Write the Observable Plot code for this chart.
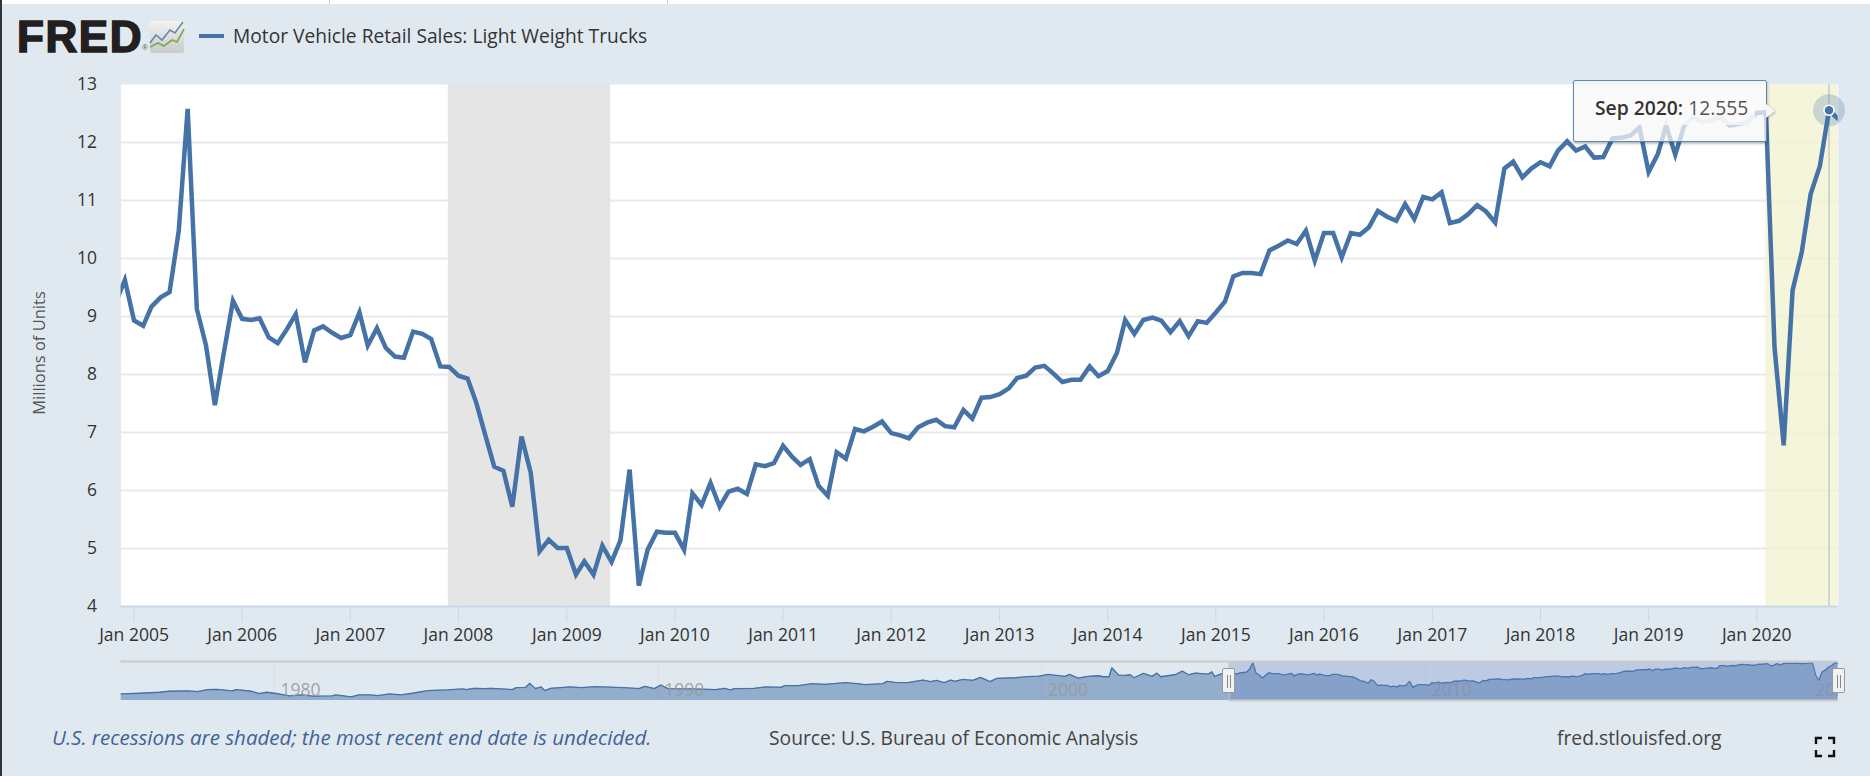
<!DOCTYPE html>
<html>
<head>
<meta charset="utf-8">
<script src="https://cdn.jsdelivr.net/npm/d3@7"></script>
<script src="https://cdn.jsdelivr.net/npm/@observablehq/plot@0.6"></script>
<style>
html,body{margin:0;padding:0;background:#e1e9f0;width:1870px;height:776px;overflow:hidden;font-family:"Open Sans",sans-serif}
.abs{position:absolute;white-space:nowrap}
svg{overflow:visible}
</style>
</head>
<body>
<div id="root"></div>
<script>
const seriesTitle = "Motor Vehicle Retail Sales: Light Weight Trucks";
const yLabel = "Millions of Units";
const noteText = "U.S. recessions are shaded; the most recent end date is undecided.";
const sourceText = "Source: U.S. Bureau of Economic Analysis";
const siteText = "fred.stlouisfed.org";
const tooltipDate = "Sep 2020:";
const tooltipValue = "12.555";

// monthly values, Nov 2004 → Oct 2020
const firstMonth = [2004, 10];
const values = [
  9.25, 9.63,
  8.93,8.84,9.17,9.33,9.42,10.48,12.58,9.13,8.50,7.47,8.40,9.27,
  8.96,8.94,8.97,8.64,8.54,8.78,9.04,8.21,8.76,8.83,8.72,8.63,
  8.68,9.07,8.50,8.80,8.46,8.31,8.29,8.74,8.70,8.61,8.14,8.13,
  7.98,7.93,7.52,6.95,6.41,6.34,5.72,6.93,6.31,4.95,5.15,5.01,
  5.01,4.55,4.78,4.55,5.05,4.77,5.14,6.36,4.36,4.98,5.29,5.27,
  5.27,4.98,5.95,5.75,6.13,5.72,5.98,6.03,5.94,6.45,6.42,6.47,
  6.77,6.58,6.44,6.54,6.08,5.91,6.66,6.55,7.06,7.02,7.10,7.19,
  6.99,6.95,6.90,7.09,7.17,7.22,7.11,7.09,7.39,7.24,7.60,7.61,
  7.66,7.76,7.94,7.98,8.12,8.15,8.02,7.87,7.91,7.91,8.14,7.97,
  8.06,8.37,8.94,8.70,8.94,8.98,8.93,8.73,8.92,8.66,8.92,8.89,
  9.07,9.26,9.69,9.75,9.75,9.73,10.14,10.22,10.31,10.25,10.48,9.96,
  10.44,10.44,10.02,10.44,10.41,10.54,10.82,10.72,10.65,10.94,10.68,11.06,
  11.02,11.14,10.61,10.65,10.76,10.92,10.81,10.62,11.55,11.67,11.40,11.55,
  11.66,11.59,11.86,12.02,11.86,11.93,11.74,11.75,12.07,12.08,12.12,12.26,
  11.49,11.80,12.29,11.79,12.29,12.44,12.35,12.38,12.44,12.29,12.32,12.35,
  12.51,12.52,8.47,6.78,9.45,10.11,11.11,11.59,12.555,12.41
];

// navigator: earlier history, read from the overview strip
const navYears = [
  1976,1976.5,1977,1977.25,1977.75,1978,1978.25,1978.5,1978.9,1979,1979.4,1979.6,1979.8,
  1980,1980.4,1980.7,1981,1981.5,1981.6,1982,1982.2,1982.5,1982.7,1983,1983.3,1983.6,
  1984,1984.5,1984.9,1985,1985.2,1985.5,1985.65,1986.2,1986.3,1986.55,1986.65,1986.8,1986.95,1987.05,1987.2,
  1987.7,1988,1988.35,1989.1,1989.5,1989.65,1989.9,1990.07,1990.25,1990.9,1991.5,1991.74,1991.87,1992,
  1992.5,1992.78,1993.2,1993.3,1993.65,1994,1994.35,1994.87,1995.2,1995.4,1995.86,1995.97,1996.16,1996.5,
  1996.9,1997.1,1997.25,1997.45,1997.63,1997.72,1997.95,1998.2,1998.4,1998.65,1998.82,1999.3,1999.73,1999.9,
  2000.16,2000.6,2000.72,2000.94,2001.2,2001.47,2001.6,2001.75,2001.82,2002,2002.17,2002.3,2002.4,2002.65,2002.87,
  2003,2003.1,2003.47,2003.66,2003.82,2004,2004.34,2004.43,2004.5,2004.73
];
const navValues = [
  2.2,2.42,2.75,3.08,3.19,2.97,3.63,3.74,3.19,3.63,3.08,2.31,2.75,
  2.42,1.54,1.87,1.43,1.54,1.87,1.21,1.87,1.87,1.65,2.2,1.87,2.42,
  3.3,3.52,3.85,3.63,4.07,3.96,4.07,3.63,4.29,4.4,5.72,3.96,4.51,3.3,4.07,
  4.51,4.29,4.62,4.29,3.96,4.73,3.96,5.17,3.96,3.85,3.63,4.07,3.52,3.96,
  4.07,4.51,4.4,4.95,4.95,5.61,5.39,5.94,5.6,5.28,5.61,6.38,6.05,5.94,
  6.82,6.27,6.71,5.94,6.82,6.38,7.04,6.71,7.7,6.27,7.37,7.59,8.03,8.03,
  8.69,8.03,8.69,7.48,8.03,8.25,7.92,7.92,10.9,8.47,8.36,8.58,7.59,9.02,8.03,
  9.13,7.92,8.58,9.79,8.58,9.13,8.8,9.57,8.03,9.13
];

const yTicks = [4,5,6,7,8,9,10,11,12,13];
const gridTicks = [5,6,7,8,9,10,11,12];
const xTickYears = d3.range(2005, 2021);
const navTickYears = [1980,1990,2000,2010,2020];

const recessions = [
  {start:new Date(Date.UTC(2007,10,28)), end:new Date(Date.UTC(2009,4,29)), fill:"#e5e5e5", op:1},
];
const covid = [{start:new Date(Date.UTC(2020,1,1)), end:new Date(Date.UTC(2020,9,2)), fill:"#f2f2d2", op:0.8}];

const rows = values.map((v,i)=>({date:new Date(Date.UTC(firstMonth[0], firstMonth[1]+i, 1)), value:v}));
const mainStart = new Date(Date.UTC(2004,10,18));
const mainEnd = new Date(Date.UTC(2020,9,2));
const current = rows.filter(d=>d.date.getUTCFullYear()===2020 && d.date.getUTCMonth()===8);
const blue = "#4572a7";

const root = document.getElementById("root");
function place(el, left, top){ const d=document.createElement("div"); d.className="abs"; d.style.left=left+"px"; d.style.top=top+"px"; d.appendChild(el); root.appendChild(d); return d;}
function html(s, css){ const d=document.createElement("div"); d.className="abs"; d.style.cssText+=css; d.innerHTML=s; root.appendChild(d); return d;}

// page chrome
html("", "left:0;top:0;width:1870px;height:4px;background:#fff");
html("", "left:329px;top:0;width:1px;height:4px;background:#ccc");
html("", "left:667px;top:0;width:1px;height:4px;background:#ccc");
html("", "left:0;top:0;width:2px;height:776px;background:#333");

// main chart
const main = Plot.plot({
  width:1870, height:650,
  marginLeft:120.5, marginRight:32.3, marginTop:84, marginBottom:44,
  style:{background:"transparent", fontFamily:"Open Sans", fontSize:"17.5px", overflow:"visible"},
  x:{type:"utc", domain:[mainStart, mainEnd]},
  y:{domain:[4,13]},
  marks:[
    Plot.frame({fill:"#fff", stroke:null}),
    Plot.ruleY(gridTicks,{stroke:"#e9e9e9", strokeWidth:2}),
    Plot.rectY(covid,{x1:"start",x2:"end",y1:4,y2:13,fill:"fill",fillOpacity:"op",clip:true}),
    Plot.rectY(recessions,{x1:"start",x2:"end",y1:4,y2:13,fill:"fill",fillOpacity:"op"}),
    Plot.ruleX(current,{x:"date",stroke:"#c8c8c8",strokeWidth:1.5}),
    Plot.ruleY([4],{stroke:"#ccd6eb",strokeWidth:2}),
    Plot.axisX({
      ticks:xTickYears.map(y=>new Date(Date.UTC(y,0,1))),
      tickFormat:d=>"Jan "+d.getUTCFullYear(),
      tickSize:16, tickPadding:6, stroke:"#ccd6eb", fill:"#333", strokeOpacity:1,
      label:null, tickRotate:0, fontSize:17.5
    }),
    Plot.axisY({
      ticks:yTicks, tickSize:0, tickPadding:24, fill:"#333", fontSize:17.5, label:null
    }),
    Plot.line(rows,{x:"date",y:"value",stroke:blue,strokeWidth:4.5,strokeLinejoin:"miter",strokeMiterlimit:4,curve:"linear",clip:true}),
    Plot.dot(current,{x:"date",y:"value",r:16,fill:blue,fillOpacity:0.25,stroke:null}),
    Plot.dot(current,{x:"date",y:"value",r:5,fill:blue,stroke:"#fff",strokeWidth:1.5}),
  ]
});
place(main,0,0);

// y label
html(yLabel,"left:38px;top:353px;transform:translate(-50%,-50%) rotate(-90deg);font-size:16.5px;color:#555");

// navigator
const toDate = y=>{const yr=Math.floor(y);const a=Date.UTC(yr,0,1),b=Date.UTC(yr+1,0,1);return new Date(a+(y-yr)*(b-a));};
const navRows = navYears.map((y,i)=>({date:toDate(y),value:navValues[i]})).concat(rows);
const navEnd = new Date(Date.UTC(2020,9,2));
const navStart = new Date(Date.UTC(1976,0,1));
const selected = [{start:mainStart,end:navEnd}];
const nav = Plot.plot({
  width:1870, height:50,
  marginLeft:120.5, marginRight:32.3, marginTop:6, marginBottom:5,
  style:{background:"transparent", fontFamily:"Open Sans", overflow:"visible"},
  x:{type:"utc", domain:[navStart,navEnd], axis:null},
  y:{domain:[0,13], axis:null},
  marks:[
    Plot.ruleX(navTickYears.slice(0,4).map(y=>new Date(Date.UTC(y,0,1))),{stroke:"#dde0e4",strokeWidth:1}),
    Plot.areaY(navRows,{x:"date",y:"value",fill:blue,fillOpacity:0.5,curve:"linear",clip:true}),
    Plot.lineY(navRows,{x:"date",y:"value",stroke:blue,strokeWidth:1.3,curve:"linear",clip:true}),
    Plot.text(navTickYears,{x:d=>new Date(Date.UTC(d,0,1)),y:1.5,text:d=>String(d),dx:6,dy:-6,textAnchor:"start",fontSize:17.5,fill:"#999",fillOpacity:0.9,clip:true}),
    Plot.rectY(selected,{x1:"start",x2:"end",y1:0,y2:13,fill:"#6685c2",fillOpacity:0.3}),
    Plot.ruleY([13],{stroke:"#cccccc",strokeWidth:2}),
    Plot.ruleY([0],{x1:mainStart,x2:navEnd,stroke:"#cccccc",strokeWidth:2}),
    Plot.ruleX([mainStart],{stroke:"#cccccc",strokeWidth:1}),
  ]
});
place(nav,0,655);

// navigator handles
for (const x of [1228,1838]) {
  html('<div style="position:absolute;left:4px;top:6px;width:1px;height:13px;background:#888"></div><div style="position:absolute;left:7px;top:6px;width:1px;height:13px;background:#888"></div>',
    `left:${x-6.5}px;top:668px;width:11px;height:23px;background:#f2f2f2;border:1px solid #999;border-radius:2px`);
}

// tooltip
const tt = html(
  `<div style="position:absolute;left:13px;top:10px;width:168px;height:34px;background:rgba(250,250,250,.75)"></div>
   <div style="position:absolute;left:21px;top:10px;line-height:34px;font-size:19.3px;color:#333"><b style="font-weight:600">${tooltipDate}</b> <span style="color:#555">${tooltipValue}</span></div>`,
  "left:1573px;top:80px;width:192px;height:60px;background:rgba(247,247,247,.75);border:1.5px solid #5d86b8;border-radius:2px;box-shadow:1px 2px 3px rgba(0,0,0,.2)");
html("", "left:1762px;top:104px;width:0;height:0;border-top:7px solid transparent;border-bottom:7px solid transparent;border-left:9px solid #f7f7f7;filter:drop-shadow(1px 1px 1px rgba(0,0,0,.25));margin-left:4px");

// header
html(`<span style="position:absolute;left:0;top:0;font:bold 44px 'Liberation Sans';color:#231f20;-webkit-text-stroke:1.6px #231f20;letter-spacing:1.6px;line-height:44px">FRED</span><span style="position:absolute;left:125px;top:28px;font:8px 'Liberation Sans';color:#555">®</span>`,
     "left:17px;top:15px;width:130px;height:44px");
html(`<svg width="36" height="34" viewBox="0 0 36 34"><defs><linearGradient id="g" x1="0" y1="0" x2="0" y2="1"><stop offset="0" stop-color="#f1f2f1"/><stop offset="1" stop-color="#c9cbc9"/></linearGradient></defs>
 <rect x="0" y="0" width="34" height="32" rx="2" fill="url(#g)"/>
 <polyline points="0,22 6,14 12,19 20,9 25,12 33,1" fill="none" stroke="#5d8cb3" stroke-width="1.6"/>
 <polyline points="0,26 8,22 14,25 22,19 27,21 34,8" fill="none" stroke="#7fa84a" stroke-width="1.6"/></svg>`,
     "left:150px;top:21px;width:36px;height:34px");
html("","left:199px;top:34px;width:25px;height:4px;background:"+blue);
html(seriesTitle,"left:233px;top:35px;transform:translateY(-50%);font-size:19.2px;font-weight:500;color:#333");

// footer
html(noteText,"left:52px;top:737px;transform:translateY(-50%);font-size:20.5px;font-style:italic;color:#3e6398");
html(sourceText,"left:769px;top:737px;transform:translateY(-50%);font-size:19.25px;color:#444");
html(siteText,"left:1557px;top:737px;transform:translateY(-50%);font-size:19.3px;color:#444");
html(`<svg width="20" height="20" viewBox="0 0 20 20" fill="none" stroke="#111" stroke-width="2.4">
<polyline points="1,7 1,1 7,1"/><polyline points="13,1 19,1 19,7"/><polyline points="1,13 1,19 7,19"/><polyline points="13,19 19,19 19,13"/></svg>`,
 "left:1815px;top:737px");
</script>
</body>
</html>
